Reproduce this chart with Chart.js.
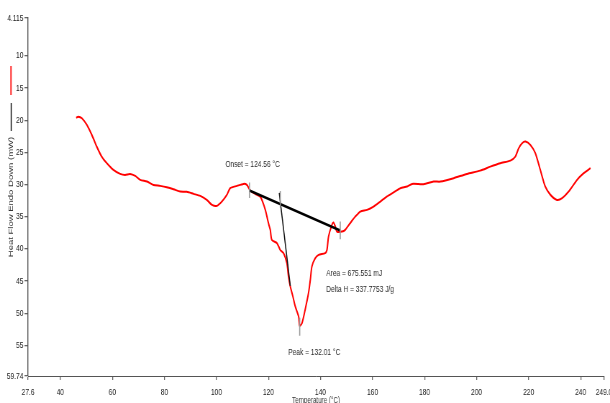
<!DOCTYPE html>
<html>
<head>
<meta charset="utf-8">
<script src="https://cdn.jsdelivr.net/npm/chart.js@4/dist/chart.umd.min.js"></script>
<style>
  html, body { margin: 0; padding: 0; background: #fff; width: 610px; height: 403px; overflow: hidden; }
  #wrap { width: 610px; height: 403px; overflow: hidden; position: relative; }
  /* the plot is laid out wide and squeezed horizontally, like the instrument's export */
  #dsc { display: block; transform: scaleX(0.71934); transform-origin: 0 0; }
</style>
</head>
<body>
<div id="wrap"><canvas id="dsc" width="848" height="403"></canvas></div>
<script>
// DSC heating scan: temperature (°C) vs heat flow (mW), endotherm plotted downward
const temps = [46.1, 46.9, 48.3, 50.2, 52.1, 54.0, 55.9, 57.9, 60.4, 63.0, 64.9, 66.8, 68.8, 70.7, 73.3,
  75.8, 78.4, 80.9, 83.5, 86.1, 88.6, 91.2, 93.8, 96.3, 98.3, 100.2, 102.1, 104.0, 105.3, 107.9, 110.4,
  111.7, 113.0, 114.9, 116.8, 117.5, 118.8, 120.0, 120.7, 121.3, 123.3, 124.5, 125.8, 127.1, 127.7, 128.4,
  129.4, 130.3, 131.6, 132.0, 132.9, 134.1, 135.4, 136.1, 136.7, 138.0, 139.3, 141.8, 142.5, 143.1, 144.4,
  145.0, 145.7, 146.3, 148.3, 149.5, 151.4, 153.4, 155.3, 157.9, 160.4, 163.0, 165.6, 168.1, 170.7, 173.3,
  175.2, 179.6, 183.5, 186.1, 191.2, 196.3, 201.4, 205.3, 209.1, 213.0, 214.9, 216.2, 217.5, 218.8, 220.7,
  222.6, 224.5, 226.4, 228.4, 230.9, 232.9, 235.4, 238.6, 241.2, 243.8];
const heatFlow = [19.64, 19.44, 19.69, 20.73, 22.28, 24.1, 25.65, 26.68, 27.72, 28.34, 28.49, 28.34, 28.65, 29.27, 29.53,
  30.05, 30.2, 30.4, 30.71, 31.09, 31.13, 31.44, 31.76, 32.38, 33.15, 33.31, 32.64, 31.6, 30.56, 30.2, 29.89,
  30.05, 30.93, 31.44, 31.86, 32.38, 33.93, 35.99, 37.03, 38.59, 39.1, 40.14, 40.65, 42.2, 44.29, 45.84,
  47.39, 48.94, 50.5, 51.94, 51.52, 49.46, 46.86, 44.8, 42.73, 41.43, 40.92, 40.65, 40.14, 38.07, 36.26,
  35.9, 36.52, 37.3, 37.3, 37.03, 36.0, 34.97, 34.19, 33.93, 33.42, 32.64, 31.83, 31.21, 30.56, 30.31,
  29.89, 29.94, 29.53, 29.53, 29.0, 28.34, 27.83, 27.21, 26.68, 26.27, 25.65, 24.35, 23.57, 23.32, 23.84,
  25.12, 27.72, 30.31, 31.6, 32.38, 32.11, 31.09, 29.27, 28.23, 27.45];

// axis ranges and tick labels
const xTicks = [27.6, 40, 60, 80, 100, 120, 140, 160, 180, 200, 220, 240, 249.0];
const xTickLabels = ['27.6', '40', '60', '80', '100', '120', '140', '160', '180', '200', '220', '240', '249.0'];
const yTicks = [4.115, 10, 15, 20, 25, 30, 35, 40, 45, 50, 55, 59.74];
const yTickLabels = ['4.115', '10', '15', '20', '25', '30', '35', '40', '45', '50', '55', '59.74'];

// peak integration: baseline limits, onset tangent and peak
const baselineT = [112.7, 147.6];
const baselineH = [30.93, 37.14];
const tangentT = [124.15, 128.4];
const tangentH = [31.29, 45.73];
const onsetT = 124.56;
const peakT = 132.01;
const limitTicks = [
  { t: 112.7, from: 29.67, to: 32.09 },
  { t: 147.6, from: 35.74, to: 38.48 },
  { t: onsetT, from: 31.0, to: 33.6 },
  { t: peakT, from: 50.7, to: 53.5 }
];
const resultTexts = [
  { t: 103.4, h: 26.94, text: 'Onset = 124.56 °C' },
  { t: 142.2, h: 43.87, text: 'Area = 675.551 mJ' },
  { t: 142.2, h: 46.35, text: 'Delta H = 337.7753 J/g' },
  { t: 127.6, h: 56.1, text: 'Peak = 132.01 °C' }
];

const FONT = "'Liberation Sans', Arial, sans-serif";

const pts = (xs, ys) => xs.map((x, i) => ({ x, y: ys[i] }));

const datasets = [];
limitTicks.forEach(k => datasets.push({
  data: [{ x: k.t, y: k.from }, { x: k.t, y: k.to }],
  borderColor: '#9a9a9a', borderWidth: 1.6, pointRadius: 0, tension: 0
}));
datasets.push({ data: pts(baselineT, baselineH), borderColor: '#000', borderWidth: 2.6, pointRadius: 0, tension: 0 });
datasets.push({ data: pts(tangentT, tangentH), borderColor: '#111', borderWidth: 1.5, pointRadius: 0, tension: 0 });
datasets.push({ data: pts(temps, heatFlow), borderColor: '#ff0000', borderWidth: 2, pointRadius: 0, tension: 0.25 });

// result labels next to the peak, and the two trace swatches beside the y title
const decorations = {
  id: 'decorations',
  afterDatasetsDraw(chart) {
    const { ctx, scales: { x, y } } = chart;
    ctx.save();
    ctx.fillStyle = '#2a2a2a';
    ctx.font = '9.2px ' + FONT;
    ctx.textAlign = 'left';
    ctx.textBaseline = 'middle';
    resultTexts.forEach(r => ctx.fillText(r.text, x.getPixelForValue(r.t), y.getPixelForValue(r.h)));
    ctx.restore();
  },
  afterDraw(chart) {
    const { ctx } = chart;
    ctx.save();
    ctx.lineWidth = 2.2;
    ctx.strokeStyle = '#ff3b3b';
    ctx.beginPath(); ctx.moveTo(15.3, 66); ctx.lineTo(15.3, 95); ctx.stroke();
    ctx.lineWidth = 1.6;
    ctx.strokeStyle = '#222';
    ctx.beginPath(); ctx.moveTo(15.6, 103); ctx.lineTo(15.6, 131); ctx.stroke();
    ctx.restore();
  }
};

new Chart(document.getElementById('dsc'), {
  type: 'line',
  data: { datasets },
  plugins: [decorations],
  options: {
    responsive: false,
    devicePixelRatio: 1,
    animation: false,
    layout: { padding: { left: 0, right: 8.3, top: 18, bottom: 0 } },
    plugins: { legend: { display: false }, tooltip: { enabled: false } },
    scales: {
      x: {
        type: 'linear',
        min: 27.6, max: 249.0,
        afterBuildTicks: s => { s.ticks = xTicks.map(v => ({ value: v })); },
        afterFit: s => { s.height = 27; s.paddingLeft = 0; s.paddingRight = 0; },
        ticks: {
          autoSkip: false, maxRotation: 0, padding: 6.5, color: '#222',
          font: { family: FONT, size: 9.2 },
          callback: (v, i) => xTickLabels[i]
        },
        grid: { drawOnChartArea: false, drawTicks: true, tickLength: 4, color: '#666', lineWidth: 1.3 },
        border: { display: true, color: '#555', width: 1 },
        title: {
          display: true, text: 'Temperature (°C)', color: '#333',
          font: { family: FONT, size: 8.7 }, padding: { top: 0, bottom: -2.7 }
        }
      },
      y: {
        type: 'linear',
        reverse: true,
        min: 4.115, max: 59.74,
        afterBuildTicks: s => { s.ticks = yTicks.map(v => ({ value: v })); },
        afterFit: s => { s.width = 39; s.paddingTop = 0; s.paddingBottom = 0; },
        ticks: {
          autoSkip: false, padding: 1.5, color: '#222',
          font: { family: FONT, size: 9.2 },
          callback: (v, i) => yTickLabels[i]
        },
        grid: { drawOnChartArea: false, drawTicks: true, tickLength: 5, color: '#666', lineWidth: 1.3 },
        border: { display: true, color: '#555', width: 1.4 },
        title: {
          display: true, text: 'Heat Flow Endo Down (mW)', color: '#333',
          font: { family: FONT, size: 9.5 }, padding: { top: 10, bottom: 0 }
        }
      }
    }
  }
});
</script>
</body>
</html>
